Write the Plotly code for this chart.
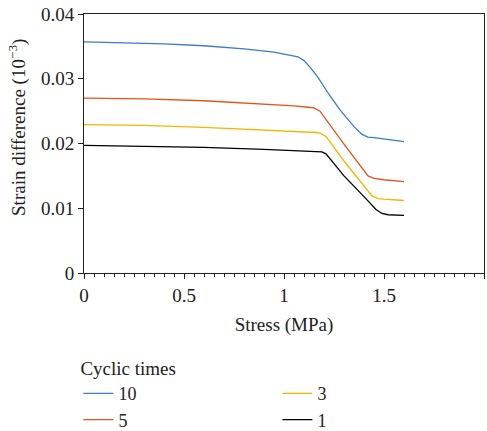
import plotly.graph_objects as go

# Data
stress_10 = [0, 0.2, 0.4, 0.6, 0.8, 0.95, 1.03, 1.07, 1.10, 1.13, 1.17, 1.22, 1.28, 1.35, 1.39, 1.42, 1.45, 1.5, 1.6]
strain_10 = [0.0357, 0.0356, 0.0354, 0.0351, 0.0346, 0.0341, 0.0337, 0.0334, 0.0328, 0.0318, 0.0302, 0.0278, 0.0252, 0.0226, 0.0214, 0.0210, 0.0209, 0.0207, 0.0203]

stress_5 = [0, 0.3, 0.6, 0.9, 1.05, 1.12, 1.15, 1.18, 1.3, 1.42, 1.45, 1.5, 1.6]
strain_5 = [0.0270, 0.0269, 0.0266, 0.0261, 0.0258, 0.0256, 0.0255, 0.0250, 0.0199, 0.0150, 0.0146, 0.0144, 0.0141]

stress_3 = [0, 0.3, 0.6, 0.9, 1.1, 1.16, 1.18, 1.21, 1.3, 1.44, 1.47, 1.5, 1.6]
strain_3 = [0.0229, 0.0228, 0.0225, 0.0221, 0.0218, 0.0217, 0.0216, 0.0211, 0.0173, 0.0119, 0.0115, 0.0114, 0.0112]

stress_1 = [0, 0.3, 0.6, 0.9, 1.1, 1.19, 1.21, 1.3, 1.4, 1.46, 1.49, 1.52, 1.6]
strain_1 = [0.0197, 0.0196, 0.0194, 0.0191, 0.0189, 0.0187, 0.0184, 0.0150, 0.0118, 0.0098, 0.0092, 0.0090, 0.0089]

series = [
    ("10", stress_10, strain_10, "#3B7BC9"),
    ("3", stress_3, strain_3, "#F2B600"),
    ("5", stress_5, strain_5, "#E2531C"),
    ("1", stress_1, strain_1, "#000000"),
]

fig = go.Figure()
for name, xs, ys, col in series:
    fig.add_trace(go.Scatter(x=xs, y=ys, mode="lines", name=name,
                             line=dict(color=col, width=1.3, shape="linear")))

font = "Liberation Serif, Times New Roman, serif"
fig.update_layout(
    width=487, height=431,
    margin=dict(l=84, r=3, t=14, b=158, autoexpand=False),
    paper_bgcolor="white", plot_bgcolor="white",
    font=dict(family=font, size=19, color="#222"),
    showlegend=True,
    legend=dict(
        orientation="h", xref="container", x=0.161, xanchor="left",
        yref="container", y=0.187, yanchor="top",
        title=dict(text="Cyclic times", side="top", font=dict(size=19)),
        entrywidth=154, entrywidthmode="pixels",
        font=dict(size=18), tracegroupgap=0, itemwidth=30,
    ),
    xaxis=dict(
        range=[0, 2], tickvals=[0, 0.5, 1, 1.5, 2], ticktext=["0", "0.5", "1", "1.5", "2"],
        ticks="outside", ticklen=5, tickcolor="#222", tickwidth=1,
        tickfont=dict(size=19), automargin=False,
        minor=dict(dtick=0.05, ticks="outside", ticklen=3, tickcolor="#222", tickwidth=1),
        showline=True, linecolor="#222", linewidth=1, mirror=True,
        showgrid=False, zeroline=False,
        title=dict(text="Stress (MPa)", standoff=12, font=dict(size=19)),
    ),
    yaxis=dict(
        range=[0, 0.04], tickvals=[0, 0.01, 0.02, 0.03, 0.04],
        ticktext=["0", "0.01", "0.02", "0.03", "0.04"],
        ticks="outside", ticklen=5, tickcolor="#222", tickwidth=1,
        tickfont=dict(size=19), automargin=False,
        showline=True, linecolor="#222", linewidth=1, mirror=True,
        showgrid=False, zeroline=False,
    ),
    annotations=[dict(
        text="Strain difference (10<sup>−3</sup>)", textangle=-90,
        xref="paper", yref="paper", x=-0.165, y=0.56, xanchor="center", yanchor="middle",
        showarrow=False, font=dict(size=19, family=font, color="#222"),
    )],
)

fig.write_html("out.html")
